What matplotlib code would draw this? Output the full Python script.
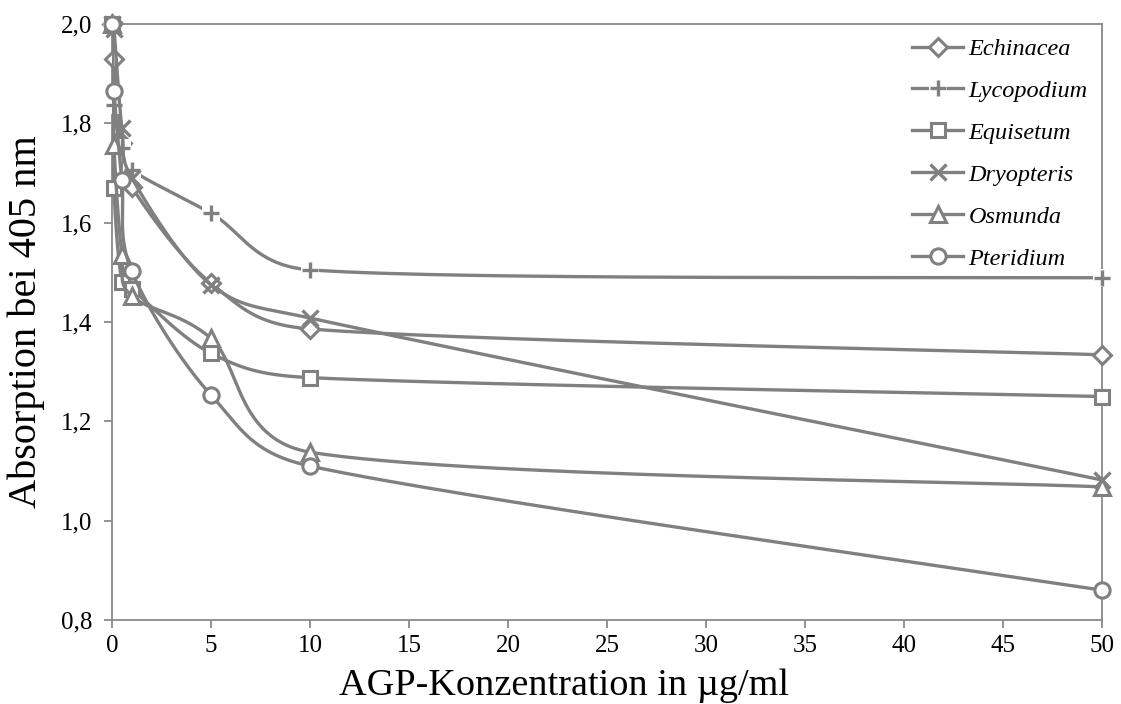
import numpy as np
import matplotlib
matplotlib.use('Agg')
import matplotlib.pyplot as plt
from matplotlib.lines import Line2D
from matplotlib.legend_handler import HandlerTuple

# ---------------- data ----------------
conc = [0, 0.1, 0.5, 1, 5, 10, 50]
echinacea = [2.0, 1.93, 1.76, 1.672, 1.478, 1.386, 1.334]
lycopodium = [2.0, 1.837, 1.75, 1.706, 1.619, 1.505, 1.489]
equisetum = [2.0, 1.67, 1.48, 1.466, 1.337, 1.288, 1.250]
dryopteris = [2.0, 1.99, 1.79, 1.69, 1.475, 1.408, 1.082]
osmunda = [2.0, 1.756, 1.535, 1.452, 1.367, 1.138, 1.068]
pteridium = [2.0, 1.865, 1.686, 1.502, 1.253, 1.110, 0.860]

series_names = ['Echinacea', 'Lycopodium', 'Equisetum', 'Dryopteris', 'Osmunda', 'Pteridium']
series_values = [echinacea, lycopodium, equisetum, dryopteris, osmunda, pteridium]
series_markers = ['D', '+', 's', 'x', '^', 'o']

x_ticks = [0, 5, 10, 15, 20, 25, 30, 35, 40, 45, 50]
y_ticks = [0.8, 1.0, 1.2, 1.4, 1.6, 1.8, 2.0]
y_tick_labels = ['0,8', '1,0', '1,2', '1,4', '1,6', '1,8', '2,0']
x_label = 'AGP-Konzentration in µg/ml'
y_label = 'Absorption bei 405 nm'

# ---------------- style ----------------
GRAY = '#808080'
AXGRAY = '#8a8a8a'
SERIF = 'Liberation Serif'
msize = {'D': 9, '+': 12, 's': 10.5, 'x': 11, '^': 12, 'o': 11}

fig = plt.figure(figsize=(11.21, 7.04), dpi=100)
ax = fig.add_axes([112 / 1121, 84 / 704, 990 / 1121, 596 / 704])
ax.set_xlim(0, 50)
ax.set_ylim(0.8, 2.0)


def excel_smooth(xs, ys, n=60):
    pts = ax.transData.transform(np.column_stack([xs, ys]))
    N = len(pts)
    out = [pts[0]]
    t = np.linspace(0, 1, n)[1:, None]
    for i in range(N - 1):
        p0 = pts[i - 1] if i > 0 else pts[i]
        p1 = pts[i]
        p2 = pts[i + 1]
        p3 = pts[i + 2] if i + 2 < N else pts[i + 1]
        d12 = np.hypot(*(p2 - p1))
        d02 = np.hypot(*(p2 - p0))
        d13 = np.hypot(*(p3 - p1))
        if d02 / 6 < d12 / 2 or d02 == 0:
            c1 = p1 + (p2 - p0) / 6
        else:
            c1 = p1 + (p2 - p0) * (d12 / 2) / d02
        if d13 / 6 < d12 / 2 or d13 == 0:
            c2 = p2 - (p3 - p1) / 6
        else:
            c2 = p2 - (p3 - p1) * (d12 / 2) / d13
        seg = ((1 - t) ** 3) * p1 + 3 * ((1 - t) ** 2) * t * c1 + 3 * (1 - t) * (t ** 2) * c2 + (t ** 3) * p2
        out.extend(seg)
    out = np.array(out)
    return ax.transData.inverted().transform(out)


handles = []
for k, (name, vals, mk) in enumerate(zip(series_names, series_values, series_markers)):
    z = 3 + k * 3
    curve = excel_smooth(conc, vals)
    ax.plot(curve[:, 0], curve[:, 1], color=GRAY, lw=2.4, zorder=z, solid_capstyle='round')
    line_h = Line2D([], [], color=GRAY, lw=2.4)
    if mk == '+':
        ax.plot(conc, vals, ls='none', marker='s', ms=13, mfc='white', mec='white', mew=0,
                zorder=z + 1, clip_on=False)
        ax.plot(conc, vals, ls='none', marker='+', ms=msize[mk], mec=GRAY, mew=2.4,
                zorder=z + 2, clip_on=False)
        h = (line_h,
             Line2D([], [], ls='none', marker='s', ms=13, mfc='white', mec='white', mew=0),
             Line2D([], [], ls='none', marker='+', ms=msize[mk], mec=GRAY, mew=2.4))
    elif mk == 'x':
        ax.plot(conc, vals, ls='none', marker='x', ms=msize[mk], mec=GRAY, mew=2.4,
                zorder=z + 2, clip_on=False)
        h = (line_h, Line2D([], [], ls='none', marker='x', ms=msize[mk], mec=GRAY, mew=2.4))
    else:
        ax.plot(conc, vals, ls='none', marker=mk, ms=msize[mk], mfc='white', mec=GRAY, mew=2.2,
                zorder=z + 2, clip_on=False)
        h = (line_h, Line2D([], [], ls='none', marker=mk, ms=msize[mk], mfc='white', mec=GRAY, mew=2.2))
    handles.append(h)

ax.set_xticks(x_ticks)
ax.set_xticklabels([str(v) for v in x_ticks])
ax.set_yticks(y_ticks)
ax.set_yticklabels(y_tick_labels)
for s in ax.spines.values():
    s.set_color(AXGRAY)
    s.set_linewidth(1.3)
ax.tick_params(axis='both', direction='out', length=6, width=1.3, color=AXGRAY,
               labelsize=18, labelcolor='black')
ax.tick_params(axis='x', pad=5)
ax.tick_params(axis='y', pad=8)
for lab in ax.get_xticklabels() + ax.get_yticklabels():
    lab.set_fontfamily(SERIF)

ax.set_xlabel(x_label, fontsize=27.5, fontfamily=SERIF)
ax.set_ylabel(y_label, fontsize=29, fontfamily=SERIF)
ax.xaxis.set_label_coords((564 - 112) / 990, -0.082)
ax.yaxis.set_label_coords((45 - 112) / 990, 0.5)

leg = ax.legend(handles, series_names, handler_map={tuple: HandlerTuple(ndivide=1, pad=0)},
                loc='upper left', bbox_to_anchor=(912 / 1121, 1 - 38 / 704),
                bbox_transform=fig.transFigure, frameon=False, borderpad=0,
                borderaxespad=0, handlelength=2.1, handletextpad=0.22,
                labelspacing=0.82, prop={'family': SERIF, 'style': 'italic', 'size': 17.5})

fig.savefig('out.png', dpi=100)
